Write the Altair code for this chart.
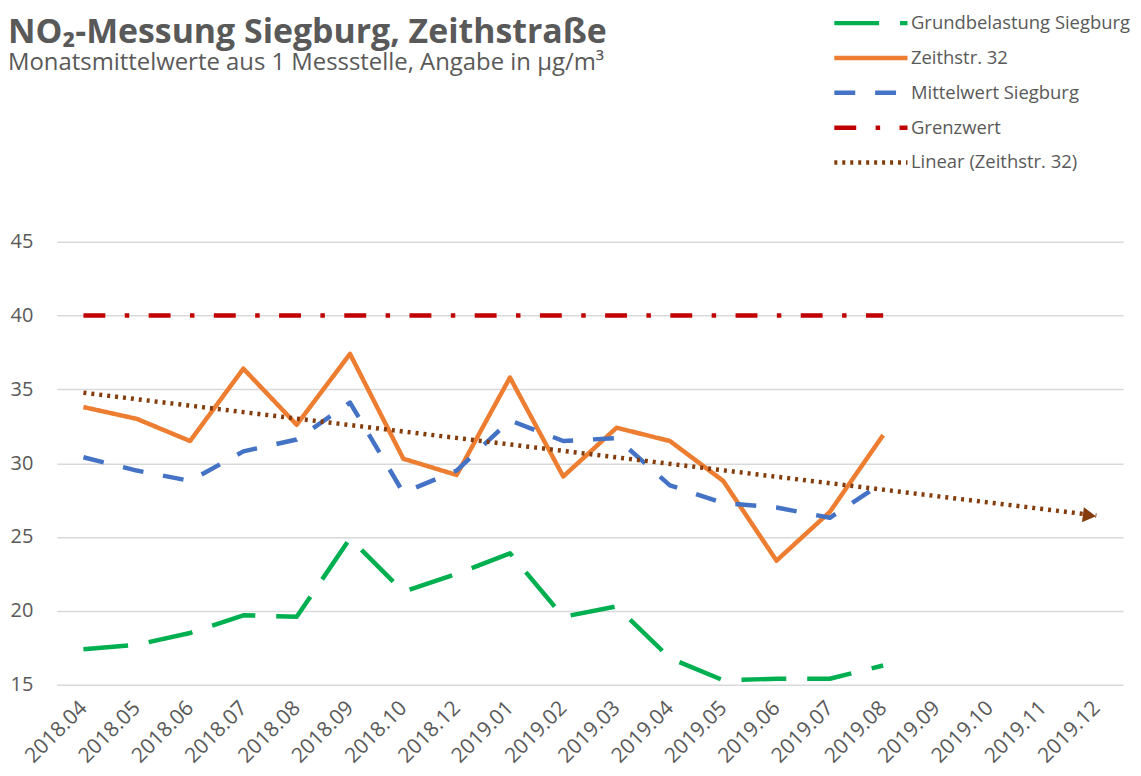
import altair as alt
import pandas as pd
import numpy as np

months = ["2018.04", "2018.05", "2018.06", "2018.07", "2018.08", "2018.09", "2018.10",
          "2018.12", "2019.01", "2019.02", "2019.03", "2019.04", "2019.05", "2019.06",
          "2019.07", "2019.08", "2019.09", "2019.10", "2019.11", "2019.12"]
measured = months[:16]

grund = [17.4, 17.7, 18.5, 19.7, 19.6, 24.9, 21.3, 22.5, 23.9, 19.6, 20.3, 16.8, 15.3, 15.4, 15.4, 16.3]
zeith = [33.8, 33.0, 31.5, 36.4, 32.6, 37.4, 30.3, 29.2, 35.8, 29.1, 32.4, 31.5, 28.8, 23.4, 26.7, 31.9]
mittel = [30.4, 29.5, 28.8, 30.8, 31.6, 34.1, 28.0, 29.5, 32.9, 31.5, 31.7, 28.5, 27.3, 27.0, 26.3, 28.7]
grenz = [40, 40, 40, 40, 40, 40, 40, 40, 40, 40, 40, 40, 40, 40, 40, 40]

series_names = ["Grundbelastung Siegburg", "Zeithstr. 32", "Mittelwert Siegburg",
                "Grenzwert", "Linear (Zeithstr. 32)"]
colors = ["#00B050", "#ED7D31", "#4472C4", "#C00000", "#843C0C"]
dashes = [[45, 21], [1, 0], [21, 20], [22, 19.5, 4.5, 19.5], [3, 5]]
widths = [4.5, 4.5, 4.5, 4.5, 3.2]

# Excel-style linear trend of Zeithstr. 32 over category index, extended to 2019.12
slope, intercept = np.polyfit(np.arange(len(zeith)), np.array(zeith), 1)
trend_idx = [0, len(months) - 1]
trend_vals = [float(intercept + slope * i) for i in trend_idx]

rows = []
for name, vals in zip(series_names[:4], [grund, zeith, mittel, grenz]):
    for i, (m, v) in enumerate(zip(measured, vals)):
        rows.append({"month": m, "value": v, "series": name, "idx": i})
for i, v in zip(trend_idx, trend_vals):
    rows.append({"month": months[i], "value": v, "series": series_names[4], "idx": i})
df = pd.DataFrame(rows)

arrow_df = pd.DataFrame([{"month": months[-1], "value": trend_vals[-1]}])

FONT = "Open Sans"
TXT = "#595959"

xscale = alt.Scale(domain=months, type="point", padding=0.5)
yscale = alt.Scale(domain=[15, 45], nice=False, zero=False)

legend = alt.Legend(
    orient="none", legendX=838, legendY=-229, direction="vertical",
    symbolType="M-9.5,0H1", symbolSize=196, symbolStrokeWidth=4.5,
    labelFontSize=18.5, labelFont=FONT, labelColor=TXT, labelOffset=1,
    labelLimit=400, rowPadding=16, padding=0, title=None,
)

lines = alt.Chart(df).mark_line(strokeCap="butt", strokeJoin="round").encode(
    x=alt.X("month:O", scale=xscale, title=None,
            axis=alt.Axis(domain=False, ticks=False, grid=False, labelAngle=-45,
                          labelAlign="right", labelBaseline="middle",
                          labelFontSize=21, labelFont=FONT, labelColor=TXT,
                          labelPadding=20)),
    y=alt.Y("value:Q", scale=yscale, title=None,
            axis=alt.Axis(values=[15, 20, 25, 30, 35, 40, 45], domain=False, ticks=False,
                          labelFontSize=20, labelFont=FONT, labelColor=TXT,
                          labelPadding=24, gridColor="#D9D9D9", gridWidth=1.5)),
    color=alt.Color("series:N", scale=alt.Scale(domain=series_names, range=colors),
                    legend=legend, title=None),
    strokeDash=alt.StrokeDash("series:N", scale=alt.Scale(domain=series_names, range=dashes),
                              legend=legend, title=None),
    strokeWidth=alt.StrokeWidth("series:N", scale=alt.Scale(domain=series_names, range=widths),
                                legend=legend, title=None),
    order=alt.Order("idx:Q"),
)

arrow = alt.Chart(arrow_df).mark_point(
    shape="triangle-right", filled=True, size=230, opacity=1, angle=7, xOffset=-7,
    color="#843C0C",
).encode(
    x=alt.X("month:O", scale=xscale),
    y=alt.Y("value:Q", scale=yscale),
)

chart = alt.layer(lines, arrow).properties(
    width=1071, height=445,
    autosize=alt.AutoSizeParams(type="none"),
    padding={"left": 49, "top": 233, "right": 10, "bottom": 82},
    title=alt.TitleParams(
        text="NO₂-Messung Siegburg, Zeithstraße",
        subtitle="Monatsmittelwerte aus 1 Messstelle, Angabe in µg/m³",
        anchor="start", frame="group", dx=-49, dy=62, offset=0,
        fontSize=34, fontWeight="bold", font=FONT, color=TXT,
        subtitleFont=FONT, subtitleFontSize=24, subtitleColor=TXT, subtitlePadding=2,
    ),
).configure_view(strokeWidth=0)

chart.save("out.html", embed_options={"renderer": "svg", "actions": False})
